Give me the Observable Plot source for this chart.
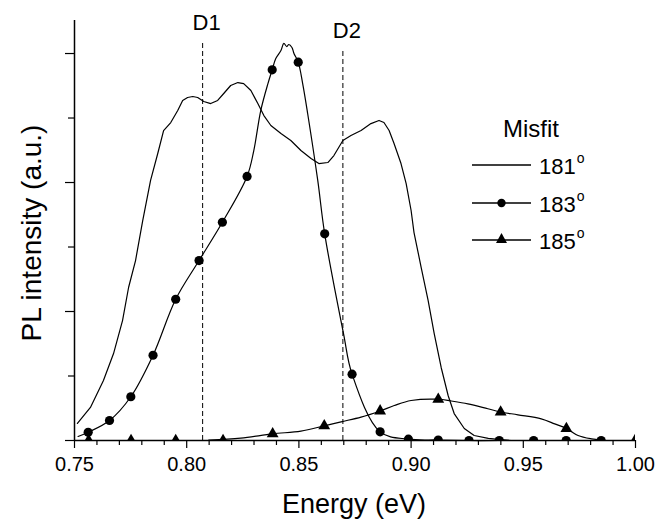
<!DOCTYPE html>
<html>
<head>
<meta charset="utf-8">
<script src="https://cdn.jsdelivr.net/npm/d3@7"></script>
<script src="https://cdn.jsdelivr.net/npm/@observablehq/plot@0.6"></script>
<style>
html, body { margin: 0; padding: 0; background: #fff; }
#chart { width: 658px; height: 519px; }
</style>
</head>
<body>
<div id="chart"></div>
<script>
// ---------- data ----------
// 181° misfit spectrum (thin line, no markers)
const e181 = [0.7513,0.7571,0.7629,0.7674,0.7714,0.7741,0.7772,0.7804,0.7839,0.7871,0.7897,0.7929,0.7960,0.7982,0.8004,0.8027,0.8049,0.8076,0.8107,0.8138,0.8165,0.8196,0.8228,0.8254,0.8286,0.8317,0.8344,0.8375,0.8420,0.8464,0.8509,0.8554,0.8589,0.8629,0.8656,0.8696,0.8732,0.8777,0.8821,0.8857,0.8879,0.8902,0.8924,0.8955,0.8978,0.9000,0.9013,0.9045,0.9076,0.9103,0.9134,0.9165,0.9192,0.9237,0.9281,0.9344,0.9388,0.9446];
const i181 = [0.132,0.256,0.465,0.674,0.930,1.186,1.395,1.705,2.016,2.225,2.403,2.465,2.558,2.636,2.659,2.667,2.659,2.628,2.612,2.636,2.690,2.752,2.775,2.767,2.713,2.612,2.519,2.442,2.380,2.326,2.248,2.186,2.147,2.155,2.209,2.326,2.364,2.403,2.457,2.481,2.465,2.403,2.302,2.147,1.992,1.783,1.612,1.341,1.085,0.829,0.566,0.349,0.209,0.093,0.039,0.016,0.008,0];

// 183° misfit spectrum (line) and its circle markers
const e183 = [0.7516,0.7561,0.7656,0.7751,0.7850,0.7951,0.8055,0.8159,0.8269,0.8299,0.8330,0.8362,0.8381,0.8397,0.8420,0.8433,0.8446,0.8455,0.8469,0.8478,0.8497,0.8517,0.8539,0.8584,0.8615,0.8699,0.8737,0.8862,0.8988,0.9121,0.9258,0.9393,0.9546,0.9691,0.9847];
const i183 = [0.031,0.064,0.155,0.339,0.661,1.095,1.395,1.692,2.047,2.248,2.558,2.767,2.874,2.961,3.023,3.078,3.054,3.070,3.047,3.000,2.933,2.765,2.535,2.016,1.602,0.827,0.514,0.067,0.010,0.004,0,0,0,0,0];
const m183e = [0.7561,0.7656,0.7751,0.7850,0.7951,0.8055,0.8159,0.8269,0.8381,0.8497,0.8615,0.8737,0.8862,0.8988,0.9121,0.9258,0.9393,0.9546,0.9691,0.9847];
const m183i = [0.064,0.155,0.339,0.661,1.095,1.395,1.692,2.047,2.874,2.933,1.602,0.514,0.067,0.010,0.004,0,0,0,0,0];

// 185° misfit spectrum (line) and its triangle markers
const e185 = [0.8098,0.8241,0.8383,0.8509,0.8613,0.8688,0.8777,0.8862,0.8925,0.9000,0.9121,0.9179,0.9253,0.9342,0.9399,0.9476,0.9580,0.9640,0.9692,0.9744,0.9804,0.9848];
const i185 = [0.004,0.018,0.052,0.072,0.114,0.145,0.181,0.229,0.271,0.310,0.320,0.306,0.284,0.246,0.221,0.199,0.168,0.129,0.093,0.039,0.013,0.004];
const m185e = [0.7563,0.7752,0.7951,0.8162,0.8383,0.8613,0.8862,0.9121,0.9399,0.9692,0.9998];
const m185i = [0,0,0,0,0.052,0.114,0.229,0.320,0.221,0.093,0];

// reference lines
const dNames = ["D1", "D2"];
const dEnergy = [0.8071, 0.8696];
const dTop = [3.085, 3.023];

// ticks
const xMajor = [0.75, 0.80, 0.85, 0.90, 0.95, 1.00];
const xMinor = [0.76,0.77,0.78,0.79,0.81,0.82,0.83,0.84,0.86,0.87,0.88,0.89,0.91,0.92,0.93,0.94,0.96,0.97,0.98,0.99];
const yMajor = [0, 1, 2, 3];
const yMinor = [0.5, 1.5, 2.5];

// texts
const seriesNames = ["181", "183", "185"];
const seriesSymbols = [null, "circle", "triangle"];
const legendTitle = "Misfit";
const degreeMark = "o";
const xTitle = "Energy (eV)";
const yTitle = "PL intensity (a.u.)";

// ---------- build ----------
const zip = (xs, ys) => xs.map((x, i) => ({x, y: ys[i]}));
const s181 = zip(e181, i181);
const s183 = zip(e183, i183);
const p183 = zip(m183e, m183i);
const s185 = zip(e185, i185);
const p185 = zip(m185e, m185i);
const dData = dNames.map((name, i) => ({name, e: dEnergy[i], top: dTop[i]}));

const FONT = "'Liberation Sans', Arial, Helvetica, sans-serif";

const svg = Plot.plot({
  width: 658,
  height: 519,
  marginLeft: 74,
  marginRight: 23,
  marginTop: 20,
  marginBottom: 79,
  style: {fontFamily: FONT, fontSize: "20px", color: "#000", background: "#fff", overflow: "visible"},
  x: {domain: [0.75, 1.0], label: null},
  y: {domain: [0, 3.256], label: null},
  marks: [
    Plot.axisX({ticks: xMinor, tickSize: 5, tickFormat: () => "", strokeWidth: 1.2}),
    Plot.axisX({ticks: xMajor, tickSize: 8, tickPadding: 8, tickFormat: d3.format(".2f"), fontSize: 20, strokeWidth: 1.2}),
    Plot.axisY({ticks: yMinor, tickSize: 6, tickFormat: () => "", strokeWidth: 1.2}),
    Plot.axisY({ticks: yMajor, tickSize: 9, tickFormat: () => "", strokeWidth: 1.2}),
    Plot.ruleX(dData, {x: "e", y1: () => 0, y2: "top", stroke: "#000", strokeWidth: 1, strokeDasharray: "5,3"}),
    Plot.text(dData, {x: "e", y: "top", text: "name", dy: -13, dx: 4, lineAnchor: "bottom", fontSize: 22, fill: "#000"}),
    Plot.line(s181, {x: "x", y: "y", stroke: "#000", strokeWidth: 1.2}),
    Plot.line(s183, {x: "x", y: "y", stroke: "#000", strokeWidth: 1.2, curve: "catmull-rom"}),
    Plot.line(s185, {x: "x", y: "y", stroke: "#000", strokeWidth: 1.2, curve: "catmull-rom"}),
    Plot.dot(p183, {x: "x", y: "y", r: 4.6, fill: "#000", stroke: "none", clip: true}),
    Plot.dot(p185, {x: "x", y: "y", r: 4.4, symbol: "triangle", fill: "#000", stroke: "none", clip: true}),
    Plot.ruleY([0], {stroke: "#000", strokeWidth: 1.5}),
    Plot.ruleX([0.75], {stroke: "#000", strokeWidth: 1.5})
  ]
});

const root = d3.select(svg);

// axis titles
root.append("text")
  .attr("x", 354).attr("y", 513)
  .style("text-anchor", "middle")
  .attr("font-family", FONT).style("font-size", "27px").attr("fill", "#000")
  .text(xTitle);

root.append("text")
  .attr("transform", "translate(41,233) rotate(-90)")
  .style("text-anchor", "middle")
  .attr("font-family", FONT).style("font-size", "28px").attr("fill", "#000")
  .text(yTitle);

// legend
const lg = root.append("g").attr("font-family", FONT).attr("fill", "#000");
lg.append("text")
  .attr("x", 531).attr("y", 137)
  .style("text-anchor", "middle")
  .style("font-size", "24px")
  .text(legendTitle);

const rowY = [165, 203, 240];
seriesNames.forEach((name, i) => {
  const y = rowY[i];
  lg.append("line")
    .attr("x1", 472).attr("x2", 531).attr("y1", y).attr("y2", y)
    .attr("stroke", "#000").attr("stroke-width", 1.3);
  if (seriesSymbols[i] === "circle") {
    lg.append("circle").attr("cx", 501.5).attr("cy", y).attr("r", 4.2).attr("fill", "#000");
  } else if (seriesSymbols[i] === "triangle") {
    lg.append("path")
      .attr("d", `M${501.5},${y - 7}L${507},${y + 3}L${496},${y + 3}Z`)
      .attr("fill", "#000");
  }
  const t = lg.append("text")
    .attr("x", 539).attr("y", y + 9)
    .style("text-anchor", "start")
    .style("font-size", "22px");
  t.append("tspan").text(name);
  t.append("tspan").style("font-size", "14px").attr("dx", 1).attr("dy", -11).text(degreeMark);
});

document.getElementById("chart").appendChild(svg);
</script>
</body>
</html>
